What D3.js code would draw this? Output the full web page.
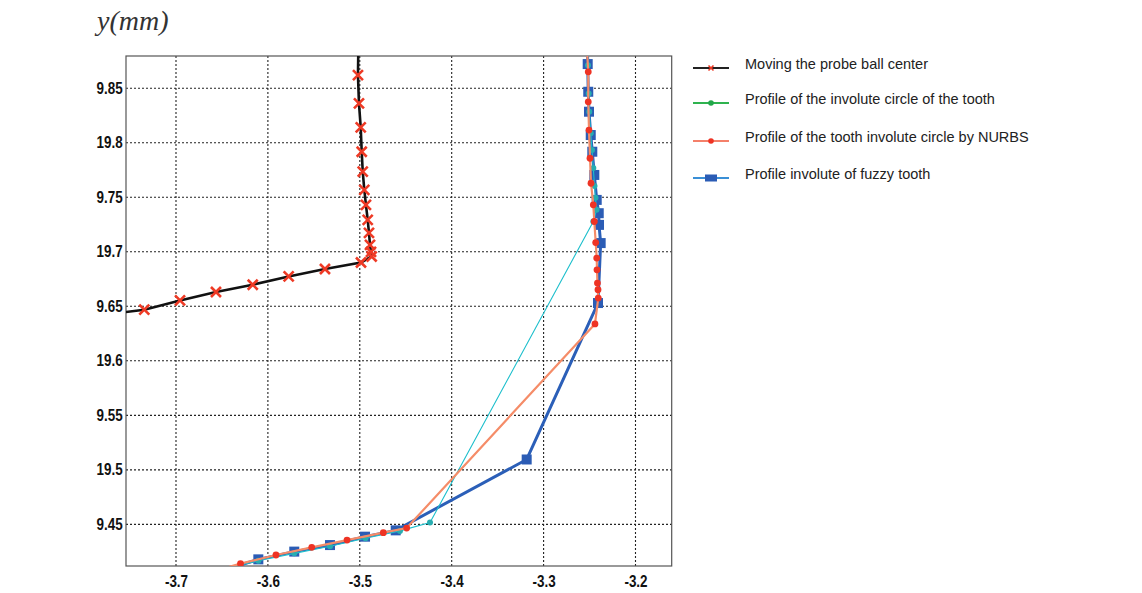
<!DOCTYPE html>
<html>
<head>
<meta charset="utf-8">
<script src="https://cdn.jsdelivr.net/npm/d3@7"></script>
<style>
  body { margin: 0; background: #fff; }
  svg { display: block; }
</style>
</head>
<body>
<div id="chart"></div>
<script>
// Axis ticks
const xTicks = [-3.7, -3.6, -3.5, -3.4, -3.3, -3.2];
const yTicks = [19.85, 19.8, 19.75, 19.7, 19.65, 19.6, 19.55, 19.5, 19.45];
const yTickLabels = ["9.85", "19.8", "9.75", "19.7", "9.65", "19.6", "9.55", "19.5", "9.45"];

// Moving the probe ball center (black line, red x)
const probeX = [-3.762, -3.7345, -3.6956, -3.6565, -3.6165, -3.5774, -3.5379, -3.4987, -3.4871, -3.4878,
  -3.4889, -3.4900, -3.4914, -3.4933, -3.4951, -3.4968, -3.4979, -3.4990, -3.5009, -3.5020, -3.5016];
const probeY = [19.6440, 19.6469, 19.6554, 19.6631, 19.6698, 19.6774, 19.6842, 19.6902, 19.6957, 19.7000,
  19.7064, 19.7174, 19.7293, 19.7430, 19.7568, 19.7735, 19.7918, 19.8142, 19.8362, 19.8621, 19.8850];

// Profile of the involute circle of the tooth (teal)
const involuteX = [-3.645, -3.6104, -3.5713, -3.5324, -3.4938, -3.4563, -3.4236, -3.2459, -3.2424, -3.2435,
  -3.2446, -3.2459, -3.2473, -3.2487, -3.2503, -3.2509, -3.2517, -3.2522];
const involuteY = [19.4095, 19.4166, 19.4234, 19.4299, 19.4372, 19.4440, 19.4516, 19.7278, 19.7385, 19.7495,
  19.7604, 19.7769, 19.7934, 19.8087, 19.8285, 19.8453, 19.8712, 19.8850];

// Profile of the tooth involute circle by NURBS (salmon, red dots)
const nurbsX = [-3.642, -3.6298, -3.5912, -3.5523, -3.5139, -3.4744, -3.4490, -3.2441, -3.2405, -3.2408,
  -3.2414, -3.2419, -3.2422, -3.2433, -3.2448, -3.2459, -3.2484, -3.2495, -3.2506, -3.2514, -3.2514, -3.2528];
const nurbsY = [19.4110, 19.4140, 19.4219, 19.4289, 19.4356, 19.4424, 19.4466, 19.6338, 19.6576, 19.6652,
  19.6713, 19.6835, 19.6942, 19.7085, 19.7278, 19.7431, 19.7629, 19.7858, 19.8117, 19.8376, 19.8651, 19.8850];

// Profile involute of fuzzy tooth (blue squares)
const fuzzyX = [-3.640, -3.6104, -3.5713, -3.5324, -3.4943, -3.4609, -3.3184, -3.2408, -3.2379, -3.2397,
  -3.2400, -3.2422, -3.2448, -3.2470, -3.2487, -3.2506, -3.2514, -3.2520, -3.2522];
const fuzzyY = [19.4100, 19.4179, 19.4250, 19.4310, 19.4387, 19.4445, 19.5095, 19.6530, 19.7080, 19.7247,
  19.7354, 19.7476, 19.7705, 19.7918, 19.8071, 19.8285, 19.8468, 19.8722, 19.8850];

const legendLabels = [
  "Moving the probe ball center",
  "Profile of the involute circle of the tooth",
  "Profile of the tooth involute circle by NURBS",
  "Profile involute of fuzzy tooth"
];

const W = 1142, H = 593;
const plot = { left: 126, right: 671.7, top: 56, bottom: 566 };

const svg = d3.select("#chart").append("svg")
  .attr("width", W).attr("height", H);

const x = d3.scaleLinear().domain([-3.7544, -3.1606]).range([plot.left, plot.right]);
const y = d3.scaleLinear().domain([19.4118, 19.8796]).range([plot.bottom, plot.top]);

// clip region for the data
svg.append("clipPath").attr("id", "clip")
  .append("rect")
  .attr("x", plot.left).attr("y", plot.top)
  .attr("width", plot.right - plot.left).attr("height", plot.bottom - plot.top);

// Grid
const grid = svg.append("g");
grid.selectAll(".vg").data(xTicks).join("line")
  .attr("x1", d => x(d)).attr("x2", d => x(d))
  .attr("y1", plot.top).attr("y2", plot.bottom)
  .attr("stroke", "#222").attr("stroke-width", 1.1).attr("stroke-dasharray", "2,2");
grid.selectAll(".hg").data(yTicks).join("line")
  .attr("x1", plot.left).attr("x2", plot.right)
  .attr("y1", d => y(d)).attr("y2", d => y(d))
  .attr("stroke", "#222").attr("stroke-width", 1.1).attr("stroke-dasharray", "2,2");

// Axes (labels squeezed a bit to look like the narrow bold face of the original)
const axisFont = "'Liberation Sans', Arial, sans-serif";
const xAxis = svg.append("g")
  .attr("transform", `translate(0,${plot.bottom})`)
  .call(d3.axisBottom(x).tickValues(xTicks).tickSize(0).tickPadding(10).tickFormat(d3.format(".1f")));
xAxis.select(".domain").remove();
xAxis.selectAll("text")
  .attr("fill", "#111").style("font-family", axisFont)
  .style("font-size", "16px").style("font-weight", "bold")
  .attr("transform", "scale(0.84,1)")
  .text(d => d3.format(".1f")(d).replace("−", "-"));

const yAxis = svg.append("g")
  .attr("transform", `translate(${plot.left},0)`)
  .call(d3.axisLeft(y).tickValues(yTicks).tickSize(0).tickPadding(4)
    .tickFormat((d, i) => yTickLabels[i]));
yAxis.select(".domain").remove();
yAxis.selectAll("text")
  .attr("fill", "#111").style("font-family", axisFont)
  .style("font-size", "16px").style("font-weight", "bold")
  .attr("transform", "scale(0.84,1)");

// Plot frame
svg.append("rect")
  .attr("x", plot.left).attr("y", plot.top)
  .attr("width", plot.right - plot.left).attr("height", plot.bottom - plot.top)
  .attr("fill", "none").attr("stroke", "#555").attr("stroke-width", 1.2);

// y axis title
svg.append("text")
  .attr("x", 97).attr("y", 30)
  .style("font-family", "'Liberation Serif', 'Times New Roman', serif")
  .style("font-style", "italic").style("font-size", "28px")
  .attr("fill", "#333")
  .text("y(mm)");

const data = svg.append("g").attr("clip-path", "url(#clip)");
const line = d3.line().x(d => x(d[0])).y(d => y(d[1]));

const probe = d3.zip(probeX, probeY);
const involute = d3.zip(involuteX, involuteY);
const nurbs = d3.zip(nurbsX, nurbsY);
const fuzzy = d3.zip(fuzzyX, fuzzyY);

// Probe ball center
data.append("path").datum(probe).attr("d", line)
  .attr("fill", "none").attr("stroke", "#111").attr("stroke-width", 2.6);
const xMark = "M-5,-5L5,5M-5,5L5,-5";
data.selectAll(".probe").data(probe.slice(1, -1)).join("path")
  .attr("transform", d => `translate(${x(d[0])},${y(d[1])})`)
  .attr("d", xMark).attr("stroke", "#ee3a25").attr("stroke-width", 2.6).attr("fill", "none");

// Fuzzy tooth
data.append("path").datum(fuzzy).attr("d", line)
  .attr("fill", "none").attr("stroke", "#2b5fb8").attr("stroke-width", 3);
data.selectAll(".fuzzy").data(fuzzy.slice(1, -1)).join("rect")
  .attr("x", d => x(d[0]) - 5).attr("y", d => y(d[1]) - 5)
  .attr("width", 10).attr("height", 10).attr("fill", "#2b5cb5");

// Involute circle
data.append("path").datum(involute).attr("d", line)
  .attr("fill", "none").attr("stroke", "#1dbfcc").attr("stroke-width", 1.1);
data.selectAll(".inv").data(involute.slice(1, -1)).join("circle")
  .attr("cx", d => x(d[0])).attr("cy", d => y(d[1])).attr("r", 3)
  .attr("fill", "#27adb0");

// NURBS
data.append("path").datum(nurbs).attr("d", line)
  .attr("fill", "none").attr("stroke", "#f58c68").attr("stroke-width", 2.2);
data.selectAll(".nurbs").data(nurbs.slice(1, -1)).join("circle")
  .attr("cx", d => x(d[0])).attr("cy", d => y(d[1])).attr("r", 3.4)
  .attr("fill", "#ee3324");

// Legend
const legendRows = [68, 103, 141, 178];
const lineColors = ["#222", "#2fb34f", "#f4806a", "#3a8fd6"];
const legend = svg.append("g");
legendLabels.forEach((label, i) => {
  const row = legend.append("g").attr("transform", `translate(0,${legendRows[i]})`);
  row.append("line").attr("x1", 693).attr("x2", 729).attr("y1", 0).attr("y2", 0)
    .attr("stroke", lineColors[i]).attr("stroke-width", 1.8);
  if (i === 0) {
    row.append("path").attr("transform", "translate(711,0)")
      .attr("d", "M-2.5,-2.5L2.5,2.5M-2.5,2.5L2.5,-2.5")
      .attr("stroke", "#ee3a25").attr("stroke-width", 1.6);
  } else if (i === 1) {
    row.append("circle").attr("cx", 711).attr("cy", 0).attr("r", 2.8).attr("fill", "#22a84a");
  } else if (i === 2) {
    row.append("circle").attr("cx", 711).attr("cy", 0).attr("r", 2.8).attr("fill", "#ee3324");
  } else {
    row.append("rect").attr("x", 705).attr("y", -3.5).attr("width", 12).attr("height", 7).attr("fill", "#2b5cb5");
  }
  row.append("text").attr("x", 745).attr("y", 0).attr("dy", "0.1em")
    .style("font-family", "Arial, 'Liberation Sans', sans-serif")
    .style("font-size", "14.5px").attr("fill", "#222")
    .text(label);
});
</script>
</body>
</html>
